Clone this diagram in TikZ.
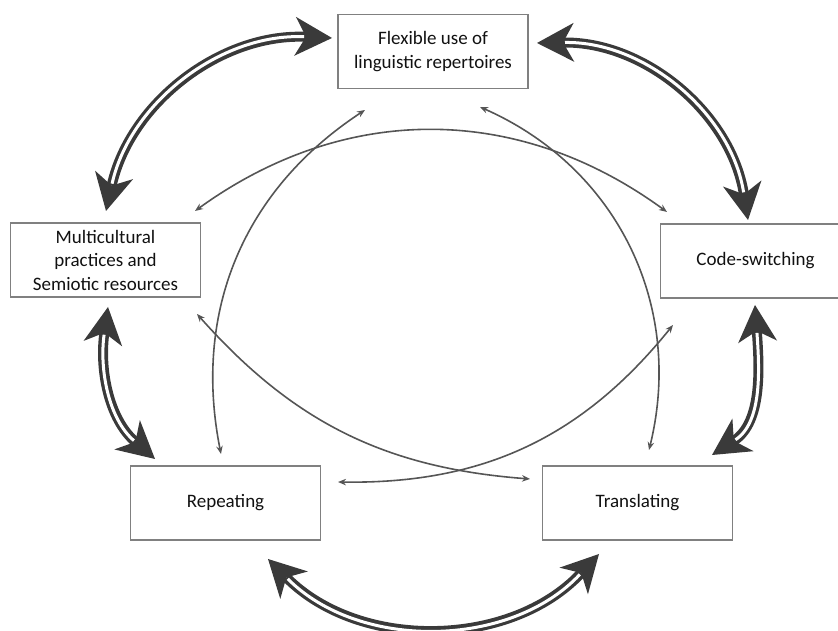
\documentclass[tikz,border=0pt]{standalone}
\usepackage{fontspec}
\setmainfont{Carlito}
\usetikzlibrary{arrows.meta}
\definecolor{boxline}{HTML}{808080}
\definecolor{heavy}{HTML}{3A3A3A}
\definecolor{light}{HTML}{555555}
\definecolor{ink}{HTML}{111111}
\tikzset{
  box/.style={draw=boxline, line width=1.1pt, minimum width=190pt, minimum height=74pt,
    inner sep=3pt, align=center, text=ink, font=\fontsize{19}{23.5}\selectfont},
  link/.style={draw=light, line width=1.6pt,
    {Stealth[length=8pt,width=6.5pt]}-{Stealth[length=8pt,width=6.5pt]}},
  bigarrow/.style={draw=heavy, line width=10pt,
    {Stealth[length=37pt,width=39pt,inset=11pt,line width=0pt]}-{Stealth[length=37pt,width=39pt,inset=11pt,line width=0pt]},
    postaction={draw=white, line width=3pt, -, shorten <=28pt, shorten >=28pt}},
}
\begin{document}
\begin{tikzpicture}[x=1pt,y=1pt]
\useasboundingbox (0,0) rectangle (838,631);

% the five stages
\node[box] (flex)  at (433,579.5) {Flexible use of\\linguistic repertoires};
\node[box] (multi) at (105.5,371) {Multicultural\\practices and\\Semiotic resources};
\node[box] (code)  at (755.5,370) {Code-switching};
\node[box] (rep)   at (225.5,128) {Repeating};
\node[box] (trans) at (637.5,128) {Translating};

% ends of the thin cross links
\coordinate (t1a) at (195,420); \coordinate (t1b) at (667,419);
\coordinate (t2a) at (365,521); \coordinate (t2b) at (221,177);
\coordinate (t3a) at (480,524); \coordinate (t3b) at (649,181);
\coordinate (t4a) at (197,317); \coordinate (t4b) at (530,152);
\coordinate (t5a) at (338,149); \coordinate (t5b) at (673,306);

\draw[link] (t1a) to[bend left=36]  (t1b);
\draw[link] (t2a) to[bend right=34] (t2b);
\draw[link] (t3a) to[bend left=40]  (t3b);
\draw[link] (t4a) to[bend right=22] (t4b);
\draw[link] (t5a) to[bend right=26] (t5b);

% ends of the heavy cycle arrows
\coordinate (ba1) at (106,420); \coordinate (ba2) at (332,593);
\coordinate (bb1) at (537,588); \coordinate (bb2) at (748,411);
\coordinate (bc1) at (755,326); \coordinate (bc2) at (712,176);
\coordinate (bd1) at (108,324); \coordinate (bd2) at (155,172);
\coordinate (be1) at (268,72);  \coordinate (be2) at (599,77);

\draw[bigarrow] (ba1) to[bend left=40] (ba2);
\draw[bigarrow] (bb1) to[bend left=41] (bb2);
\draw[bigarrow] (bc1) to[out=274,in=33] (bc2);
\draw[bigarrow] (bd1) to[out=262,in=139] (bd2);
\draw[bigarrow] (be1) to[bend right=46] (be2);
\end{tikzpicture}
\end{document}
